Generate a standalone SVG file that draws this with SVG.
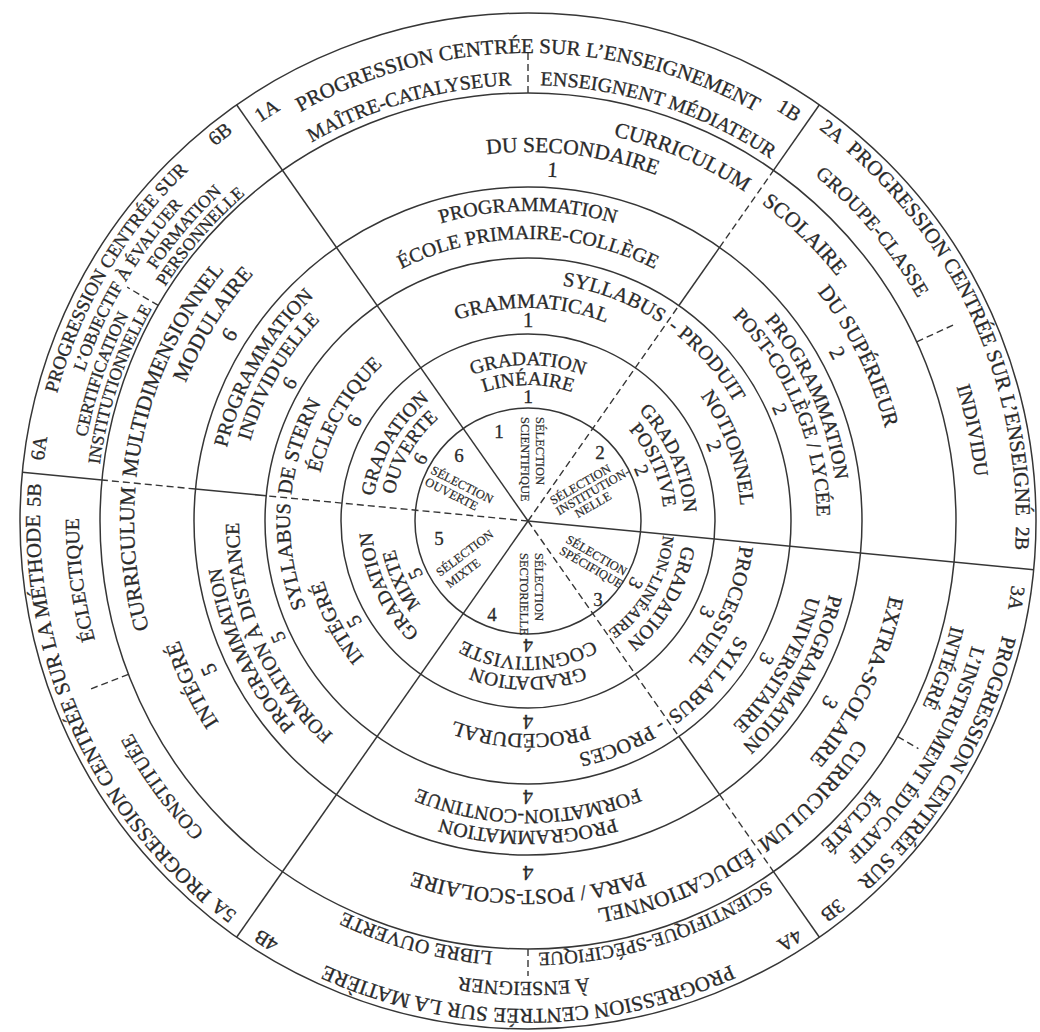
<svg xmlns="http://www.w3.org/2000/svg" width="1040" height="1032" viewBox="0 0 1040 1032">
<style>
.ln{fill:none;stroke:#363636;stroke-width:1.5}
.ds{fill:none;stroke:#363636;stroke-width:1.4;stroke-dasharray:7 4}
text{font-family:"Liberation Serif","Times New Roman",serif;fill:#2a2a2a;stroke:#2a2a2a;stroke-width:.3px;text-anchor:middle}
.o{font-size:21px}
.m{font-size:20px}
.b{font-size:21.5px}
.p{font-size:20px}
.y{font-size:20.5px}
.g{font-size:19.5px}
.q{font-size:19px}
.k{font-size:17.5px}
.h{font-size:16px}
.n{font-size:19px}
.s{font-size:12.5px;text-anchor:start;stroke-width:.2px}
</style>
<defs>
<path id="p488" d="M528 1009A488 488 0 0 1 528 33A488 488 0 0 1 528 1009A488 488 0 0 1 528 33A488 488 0 0 1 528 1009"/>
<path id="p480" d="M528 1001A480 480 0 0 1 528 41A480 480 0 0 1 528 1001A480 480 0 0 1 528 41A480 480 0 0 1 528 1001"/>
<path id="p468" d="M528 989A468 468 0 0 1 528 53A468 468 0 0 1 528 989A468 468 0 0 1 528 53A468 468 0 0 1 528 989"/>
<path id="p461" d="M528 982A461 461 0 0 1 528 60A461 461 0 0 1 528 982A461 461 0 0 1 528 60A461 461 0 0 1 528 982"/>
<path id="p449" d="M528 970A449 449 0 0 1 528 72A449 449 0 0 1 528 970A449 449 0 0 1 528 72A449 449 0 0 1 528 970"/>
<path id="p436" d="M528 957A436 436 0 0 1 528 85A436 436 0 0 1 528 957A436 436 0 0 1 528 85A436 436 0 0 1 528 957"/>
<path id="p432" d="M528 953A432 432 0 0 1 528 89A432 432 0 0 1 528 953A432 432 0 0 1 528 89A432 432 0 0 1 528 953"/>
<path id="p394" d="M528 915A394 394 0 0 1 528 127A394 394 0 0 1 528 915A394 394 0 0 1 528 127A394 394 0 0 1 528 915"/>
<path id="p369" d="M528 890A369 369 0 0 1 528 152A369 369 0 0 1 528 890A369 369 0 0 1 528 152A369 369 0 0 1 528 890"/>
<path id="p345" d="M528 866A345 345 0 0 1 528 176A345 345 0 0 1 528 866A345 345 0 0 1 528 176A345 345 0 0 1 528 866"/>
<path id="p310" d="M528 831A310 310 0 0 1 528 211A310 310 0 0 1 528 831A310 310 0 0 1 528 211A310 310 0 0 1 528 831"/>
<path id="p289" d="M528 810A289 289 0 0 1 528 232A289 289 0 0 1 528 810A289 289 0 0 1 528 232A289 289 0 0 1 528 810"/>
<path id="p282" d="M528 803A282 282 0 0 1 528 239A282 282 0 0 1 528 803A282 282 0 0 1 528 239A282 282 0 0 1 528 803"/>
<path id="p269" d="M528 790A269 269 0 0 1 528 252A269 269 0 0 1 528 790A269 269 0 0 1 528 252A269 269 0 0 1 528 790"/>
<path id="p238" d="M528 759A238 238 0 0 1 528 283A238 238 0 0 1 528 759A238 238 0 0 1 528 283A238 238 0 0 1 528 759"/>
<path id="p213" d="M528 734A213 213 0 0 1 528 308A213 213 0 0 1 528 734A213 213 0 0 1 528 308A213 213 0 0 1 528 734"/>
<path id="p194" d="M528 715A194 194 0 0 1 528 327A194 194 0 0 1 528 715A194 194 0 0 1 528 327A194 194 0 0 1 528 715"/>
<path id="p156" d="M528 677A156 156 0 0 1 528 365A156 156 0 0 1 528 677A156 156 0 0 1 528 365A156 156 0 0 1 528 677"/>
<path id="p136" d="M528 657A136 136 0 0 1 528 385A136 136 0 0 1 528 657A136 136 0 0 1 528 385A136 136 0 0 1 528 657"/>
<path id="p118" d="M528 639A118 118 0 0 1 528 403A118 118 0 0 1 528 639A118 118 0 0 1 528 403A118 118 0 0 1 528 639"/>
</defs>
<rect width="1040" height="1032" fill="#fff"/>
<g id="rings">
<circle class="ln" cx="528" cy="521" r="508"/>
<circle class="ln" cx="528" cy="521" r="428"/>
<circle class="ln" cx="528" cy="521" r="334"/>
<circle class="ln" cx="528" cy="521" r="263"/>
<circle class="ln" cx="528" cy="521" r="187"/>
<circle class="ln" cx="528" cy="521" r="113"/>
</g>
<g id="connectors">
<line class="ln" x1="528" y1="521" x2="236.6" y2="104.8"/>
<line class="ln" x1="528" y1="521" x2="236.6" y2="937.2"/>
<line class="ln" x1="528" y1="521" x2="1033.7" y2="569.7"/>
<line class="ln" x1="773.5" y1="170.4" x2="819.4" y2="104.8"/>
<line class="ds" x1="719.6" y1="247.4" x2="773.5" y2="170.4"/>
<line class="ln" x1="678.9" y1="305.5" x2="719.6" y2="247.4"/>
<line class="ds" x1="528" y1="521" x2="678.9" y2="305.5"/>
<line class="ln" x1="773.5" y1="871.6" x2="819.4" y2="937.2"/>
<line class="ds" x1="719.6" y1="794.6" x2="773.5" y2="871.6"/>
<line class="ln" x1="678.9" y1="736.5" x2="719.6" y2="794.6"/>
<line class="ds" x1="528" y1="521" x2="678.9" y2="736.5"/>
<line class="ln" x1="102" y1="480" x2="22.3" y2="472.3"/>
<line class="ds" x1="195.5" y1="489" x2="102" y2="480"/>
<line class="ln" x1="266.2" y1="495.8" x2="195.5" y2="489"/>
<line class="ds" x1="528" y1="521" x2="266.2" y2="495.8"/>
<line class="ds" x1="528" y1="93" x2="528" y2="53"/>
<line class="ds" x1="916.7" y1="341.8" x2="956.7" y2="323.4"/>
<line class="ds" x1="897.7" y1="736.6" x2="918.4" y2="748.7"/>
<line class="ds" x1="528" y1="949" x2="528" y2="976"/>
<line class="ds" x1="128.4" y1="674.4" x2="87.4" y2="690.2"/>
<line class="ds" x1="158.3" y1="305.4" x2="127.2" y2="287.2"/>
</g>
<g id="outer-band">
<text class="m"><textPath href="#p480" startOffset="70.49%">1A</textPath></text>
<text class="o"><textPath href="#p468" startOffset="25%">PROGRESSION CENTRÉE SUR L’ENSEIGNEMENT</textPath></text>
<text class="m"><textPath href="#p480" startOffset="29.51%">1B</textPath></text>
<text class="m"><textPath href="#p436" startOffset="72.78%">MAÎTRE-CATALYSEUR</textPath></text>
<text class="m"><textPath href="#p436" startOffset="27.46%">ENSEIGNENT MÉDIATEUR</textPath></text>
<text class="m"><textPath href="#p488" startOffset="30.28%">2A</textPath></text>
<text class="o"><textPath href="#p488" startOffset="34.03%">PROGRESSION CENTRÉE SUR L’ENSEIGNÉ</textPath></text>
<text class="m"><textPath href="#p488" startOffset="37.78%">2B</textPath></text>
<text class="m"><textPath href="#p449" startOffset="31.94%">GROUPE-CLASSE</textPath></text>
<text class="m"><textPath href="#p449" startOffset="35.9%">INDIVIDU</textPath></text>
<text class="m"><textPath href="#p488" startOffset="38.75%">3A</textPath></text>
<text class="o"><textPath href="#p488" startOffset="41.74%">PROGRESSION CENTRÉE SUR</textPath></text>
<text class="m"><textPath href="#p488" startOffset="44.72%">3B</textPath></text>
<text class="m"><textPath href="#p461" startOffset="41.81%">L’INSTRUMENT ÉDUCATIF</textPath></text>
<text class="m"><textPath href="#p436" startOffset="40.21%">INTÉGRÉ</textPath></text>
<text class="m"><textPath href="#p436" startOffset="43.47%">ÉCLATÉ</textPath></text>
<text class="m"><textPath href="#p488" startOffset="45.56%">4A</textPath></text>
<text class="o"><textPath href="#p488" startOffset="50%">PROGRESSION CENTRÉE SUR LA MATIÈRE</textPath></text>
<text class="m"><textPath href="#p488" startOffset="54.44%">4B</textPath></text>
<text class="m"><textPath href="#p461" startOffset="50.07%">À ENSEIGNER</textPath></text>
<text class="q"><textPath href="#p432" startOffset="47.57%">SCIENTIFIQUE-SPÉCIFIQUE</textPath></text>
<text class="m"><textPath href="#p432" startOffset="52.08%">LIBRE OUVERTE</textPath></text>
<text class="m"><textPath href="#p488" startOffset="55.28%">5A</textPath></text>
<text class="o"><textPath href="#p488" startOffset="59.1%">PROGRESSION CENTRÉE SUR LA MÉTHODE</textPath></text>
<text class="m"><textPath href="#p488" startOffset="62.92%">5B</textPath></text>
<text class="m"><textPath href="#p449" startOffset="57.5%">CONSTITUÉE</textPath></text>
<text class="m"><textPath href="#p449" startOffset="61.46%">ÉCLECTIQUE</textPath></text>
<text class="m"><textPath href="#p488" startOffset="63.68%">6A</textPath></text>
<text class="q"><textPath href="#p488" startOffset="66.74%">PROGRESSION CENTRÉE SUR</textPath></text>
<text class="m"><textPath href="#p488" startOffset="69.65%">6B</textPath></text>
<text class="k"><textPath href="#p468" startOffset="66.74%">L’OBJECTIF À ÉVALUER</textPath></text>
<text class="k"><textPath href="#p449" startOffset="65.14%">CERTIFICATION</textPath></text>
<text class="k"><textPath href="#p449" startOffset="68.13%">FORMATION</textPath></text>
<text class="k"><textPath href="#p432" startOffset="65.07%">INSTITUTIONNELLE</textPath></text>
<text class="k"><textPath href="#p432" startOffset="68.19%">PERSONNELLE</textPath></text>
</g>
<g id="curriculum-band">
<text class="b"><textPath href="#p394" startOffset="28.19%">CURRICULUM</textPath></text>
<text class="b"><textPath href="#p369" startOffset="25.97%">DU SECONDAIRE</textPath></text>
<text class="b"><textPath href="#p345" startOffset="25.56%">1</textPath></text>
<text class="b"><textPath href="#p394" startOffset="31.11%">SCOLAIRE</textPath></text>
<text class="b"><textPath href="#p369" startOffset="33.82%">DU SUPÉRIEUR</textPath></text>
<text class="b"><textPath href="#p345" startOffset="33.54%">2</textPath></text>
<text class="b"><textPath href="#p369" startOffset="41.11%">EXTRA-SCOLAIRE</textPath></text>
<text class="b"><textPath href="#p345" startOffset="41.81%">3</textPath></text>
<text class="b"><textPath href="#p394" startOffset="43.61%">CURRICULUM</textPath></text>
<text class="b"><textPath href="#p394" startOffset="46.94%">ÉDUCATIONNEL</textPath></text>
<text class="b"><textPath href="#p369" startOffset="50%">PARA / POST-SCOLAIRE</textPath></text>
<text class="b"><textPath href="#p345" startOffset="50%">4</textPath></text>
<text class="b"><textPath href="#p369" startOffset="58.89%">INTÉGRÉ</textPath></text>
<text class="b"><textPath href="#p345" startOffset="59.03%">5</textPath></text>
<text class="b"><textPath href="#p394" startOffset="61.74%">CURRICULUM</textPath></text>
<text class="b"><textPath href="#p394" startOffset="65.69%">MULTIDIMENSIONNEL</textPath></text>
<text class="b"><textPath href="#p369" startOffset="66.94%">MODULAIRE</textPath></text>
<text class="b"><textPath href="#p345" startOffset="66.94%">6</textPath></text>
</g>
<g id="programmation-band">
<text class="p"><textPath href="#p310" startOffset="25%">PROGRAMMATION</textPath></text>
<text class="p"><textPath href="#p282" startOffset="25%">ÉCOLE PRIMAIRE-COLLÈGE</textPath></text>
<text class="p"><textPath href="#p310" startOffset="34.17%">PROGRAMMATION</textPath></text>
<text class="p"><textPath href="#p289" startOffset="34.31%">POST-COLLÈGE / LYCÉE</textPath></text>
<text class="p"><textPath href="#p269" startOffset="34.17%">2</textPath></text>
<text class="p"><textPath href="#p310" startOffset="41.67%">PROGRAMMATION</textPath></text>
<text class="p"><textPath href="#p289" startOffset="41.67%">UNIVERSITAIRE</textPath></text>
<text class="p"><textPath href="#p269" startOffset="41.67%">3</textPath></text>
<text class="p"><textPath href="#p310" startOffset="50%">PROGRAMMATION</textPath></text>
<text class="p"><textPath href="#p289" startOffset="50%">FORMATION-CONTINUE</textPath></text>
<text class="p"><textPath href="#p269" startOffset="50%">4</textPath></text>
<text class="p"><textPath href="#p310" startOffset="59.03%">PROGRAMMATION</textPath></text>
<text class="p"><textPath href="#p289" startOffset="59.17%">FORMATION À DISTANCE</textPath></text>
<text class="p"><textPath href="#p269" startOffset="59.03%">5</textPath></text>
<text class="p"><textPath href="#p310" startOffset="66.67%">PROGRAMMATION</textPath></text>
<text class="p"><textPath href="#p289" startOffset="66.67%">INDIVIDUELLE</textPath></text>
<text class="p"><textPath href="#p269" startOffset="66.67%">6</textPath></text>
</g>
<g id="syllabus-band">
<text class="y"><textPath href="#p238" startOffset="27.92%">SYLLABUS</textPath></text>
<text class="y"><textPath href="#p213" startOffset="25.14%">GRAMMATICAL</textPath></text>
<text class="y"><textPath href="#p194" startOffset="25%">1</textPath></text>
<text class="y"><textPath href="#p238" startOffset="31.67%">- PRODUIT</textPath></text>
<text class="y"><textPath href="#p213" startOffset="34.72%">NOTIONNEL</textPath></text>
<text class="y"><textPath href="#p194" startOffset="34.44%">2</textPath></text>
<text class="y"><textPath href="#p213" startOffset="40.83%">PROCESSUEL</textPath></text>
<text class="y"><textPath href="#p194" startOffset="41.25%">3</textPath></text>
<text class="y"><textPath href="#p238" startOffset="43.26%">SYLLABUS</textPath></text>
<text class="y"><textPath href="#p238" startOffset="46.81%">- PROCES</textPath></text>
<text class="y"><textPath href="#p213" startOffset="50.28%">PROCÉDURAL</textPath></text>
<text class="y"><textPath href="#p194" startOffset="50%">4</textPath></text>
<text class="y"><textPath href="#p238" startOffset="61.32%">SYLLABUS</textPath></text>
<text class="y"><textPath href="#p213" startOffset="58.61%">INTÉGRÉ</textPath></text>
<text class="y"><textPath href="#p194" startOffset="58.33%">5</textPath></text>
<text class="y"><textPath href="#p238" startOffset="65%">DE STERN</textPath></text>
<text class="y"><textPath href="#p213" startOffset="66.67%">ÉCLECTIQUE</textPath></text>
<text class="y"><textPath href="#p194" startOffset="66.67%">6</textPath></text>
</g>
<g id="gradation-band">
<text class="g"><textPath href="#p156" startOffset="25%">GRADATION</textPath></text>
<text class="g"><textPath href="#p136" startOffset="25%">LINÉAIRE</textPath></text>
<text class="g"><textPath href="#p118" startOffset="25%">1</textPath></text>
<text class="g"><textPath href="#p156" startOffset="34.17%">GRADATION</textPath></text>
<text class="g"><textPath href="#p136" startOffset="34.17%">POSITIVE</textPath></text>
<text class="g"><textPath href="#p118" startOffset="34.17%">2</textPath></text>
<text class="g"><textPath href="#p156" startOffset="41.67%">GRADATION</textPath></text>
<text class="h"><textPath href="#p136" startOffset="41.67%">NON-LINÉAIRE</textPath></text>
<text class="g"><textPath href="#p118" startOffset="41.67%">3</textPath></text>
<text class="g"><textPath href="#p156" startOffset="50%">GRADATION</textPath></text>
<text class="g"><textPath href="#p136" startOffset="50%">COGNITIVISTE</textPath></text>
<text class="g"><textPath href="#p118" startOffset="50%">4</textPath></text>
<text class="g"><textPath href="#p156" startOffset="59.03%">GRADATION</textPath></text>
<text class="g"><textPath href="#p136" startOffset="59.03%">MIXTE</textPath></text>
<text class="g"><textPath href="#p118" startOffset="59.03%">5</textPath></text>
<text class="g"><textPath href="#p156" startOffset="66.67%">GRADATION</textPath></text>
<text class="g"><textPath href="#p136" startOffset="66.67%">OUVERTE</textPath></text>
<text class="g"><textPath href="#p118" startOffset="66.67%">6</textPath></text>
</g>
<g id="selection-core">
<text class="n" x="499" y="438">1</text>
<text class="n" x="600" y="459">2</text>
<text class="n" x="598" y="606">3</text>
<text class="n" x="492" y="621">4</text>
<text class="n" x="439" y="545">5</text>
<text class="n" x="459" y="462">6</text>
<text class="s" transform="translate(536 417) rotate(90)"><tspan x="0" y="0">SÉLECTION</tspan><tspan x="0" y="15">SCIENTIFIQUE</tspan></text>
<text class="s" transform="translate(553 505) rotate(-30)"><tspan x="0" y="0">SÉLECTION</tspan><tspan x="0" y="12">INSTITUTION-</tspan><tspan x="15" y="24">NELLE</tspan></text>
<text class="s" transform="translate(565 542) rotate(30)"><tspan x="0" y="0">SÉLECTION</tspan><tspan x="0" y="13">SPÉCIFIQUE</tspan></text>
<text class="s" transform="translate(535 553) rotate(90)"><tspan x="0" y="0">SÉLECTION</tspan><tspan x="0" y="15">SECTORIELLE</tspan></text>
<text class="s" transform="translate(440 577) rotate(-37)"><tspan x="0" y="0">SÉLECTION</tspan><tspan x="1" y="15">MIXTE</tspan></text>
<text class="s" transform="translate(430 473) rotate(27)"><tspan x="0" y="0">SÉLECTION</tspan><tspan x="0" y="13">OUVERTE</tspan></text>
</g>
</svg>
